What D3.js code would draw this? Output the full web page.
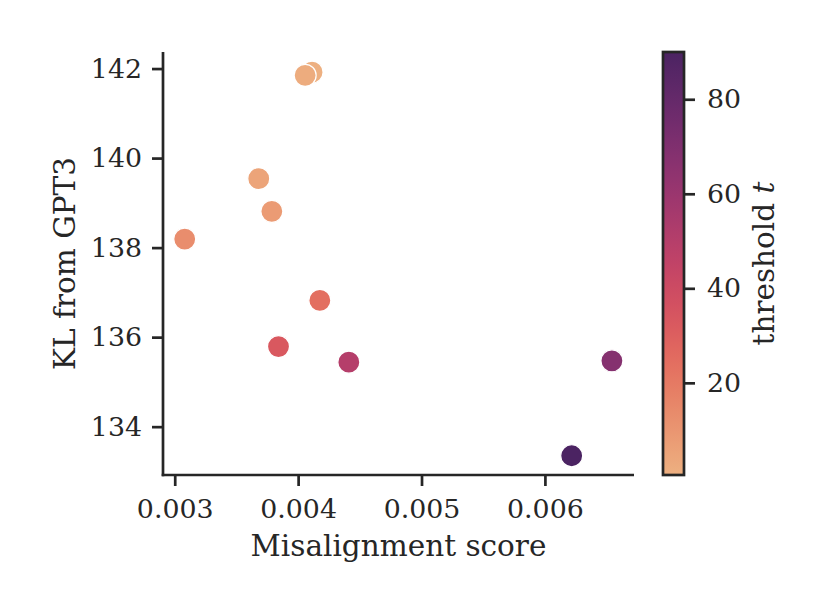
<!DOCTYPE html>
<html>
<head>
<meta charset="utf-8">
<script src="https://cdn.jsdelivr.net/npm/d3@7"></script>
<style>
  body { margin: 0; background: #fff; }
  text { font-family: "DejaVu Serif", serif; fill: #262626; }
</style>
</head>
<body>
<script>
// data
var misalignment = [0.004113, 0.004057, 0.003681, 0.003787, 0.003081, 0.004176, 0.003841, 0.004411, 0.006543, 0.006217]
var kl = [141.92, 141.85, 139.54, 138.81, 138.19, 136.82, 135.79, 135.44, 135.47, 133.35]
var threshold = [0.5, 2, 5, 8, 13, 24, 33, 50, 68, 90]
var xTicks = [0.003, 0.004, 0.005, 0.006]
var yTicks = [134, 136, 138, 140, 142]
var cTicks = [20, 40, 60, 80]

var width = 831, height = 615
var mLeft = 163, mRight = 634, mTop = 52, mBottom = 475
var ink = "#262626"
var fs = 26.8, lfs = 29.5

// seaborn "flare"
var flare = d3.interpolateRgbBasis(["#edb081", "#e98d6b", "#e3685c", "#d14a61", "#b13c6c", "#8f3371", "#6c2b6d", "#4b2362"])
var cmin = 0.5, cmax = 90
var color = d3.scaleSequential(flare).domain([cmin, cmax])

var x = d3.scaleLinear().domain([0.002905, 0.006722]).range([mLeft, mRight])
var y = d3.scaleLinear().domain([132.92, 142.37]).range([mBottom, mTop])

var svg = d3.select("body").append("svg")
  .attr("width", width)
  .attr("height", height)

svg.append("g")
  .attr("transform", "translate(0," + mBottom + ")")
  .call(d3.axisBottom(x).tickValues(xTicks).tickFormat(d3.format(".3f")).tickSize(11).tickPadding(13))
svg.append("g")
  .attr("transform", "translate(" + mLeft + ",0)")
  .call(d3.axisLeft(y).tickValues(yTicks).tickFormat(d3.format("d")).tickSize(11).tickPadding(10))

svg.selectAll(".domain").remove()
svg.selectAll(".tick line").attr("stroke", ink).attr("stroke-width", 2.7)
svg.selectAll(".tick text").attr("font-size", fs).attr("fill", ink)
  .style("font-family", "DejaVu Serif")

// spines
svg.append("line").attr("x1", mLeft).attr("x2", mLeft).attr("y1", mTop).attr("y2", mBottom + 1.3)
  .attr("stroke", ink).attr("stroke-width", 2.7)
svg.append("line").attr("x1", mLeft - 1.3).attr("x2", mRight).attr("y1", mBottom).attr("y2", mBottom)
  .attr("stroke", ink).attr("stroke-width", 2.7)

// points
svg.append("g").selectAll("circle")
  .data(misalignment)
  .enter().append("circle")
  .attr("cx", function(d) { return x(d) })
  .attr("cy", function(d, i) { return y(kl[i]) })
  .attr("r", 11)
  .attr("fill", function(d, i) { return color(threshold[i]) })
  .attr("stroke", "#fff")
  .attr("stroke-width", 1.2)

svg.append("text")
  .attr("x", (mLeft + mRight) / 2).attr("y", 556)
  .attr("text-anchor", "middle").attr("font-size", lfs)
  .text("Misalignment score")

svg.append("text")
  .attr("transform", "translate(75," + ((mTop + mBottom) / 2) + ") rotate(-90)")
  .attr("text-anchor", "middle").attr("font-size", lfs)
  .text("KL from GPT3")

// colorbar
var cbx = 663, cbw = 21
var cy = d3.scaleLinear().domain([cmin, cmax]).range([mBottom, mTop])
var grad = svg.append("defs").append("linearGradient")
  .attr("id", "cbgrad").attr("x1", 0).attr("y1", 1).attr("x2", 0).attr("y2", 0)
grad.selectAll("stop")
  .data(d3.range(0, 1.0001, 0.05))
  .enter().append("stop")
  .attr("offset", function(d) { return d })
  .attr("stop-color", function(d) { return color(cmin + d * (cmax - cmin)) })

svg.append("rect")
  .attr("x", cbx).attr("y", mTop).attr("width", cbw).attr("height", mBottom - mTop)
  .attr("fill", "url(#cbgrad)").attr("stroke", ink).attr("stroke-width", 2.7)

var cAxis = svg.append("g")
  .attr("transform", "translate(" + (cbx + cbw) + ",0)")
  .call(d3.axisRight(cy).tickValues(cTicks).tickSize(11).tickPadding(12))
cAxis.select(".domain").remove()
cAxis.selectAll(".tick line").attr("stroke", ink).attr("stroke-width", 2.7)
cAxis.selectAll(".tick text").attr("font-size", fs).attr("fill", ink)
  .style("font-family", "DejaVu Serif")

var clab = svg.append("text")
  .attr("transform", "translate(774," + ((mTop + mBottom) / 2) + ") rotate(-90)")
  .attr("text-anchor", "middle").attr("font-size", lfs)
clab.append("tspan").text("threshold ")
clab.append("tspan").attr("font-style", "italic").text("t")
</script>
</body>
</html>
